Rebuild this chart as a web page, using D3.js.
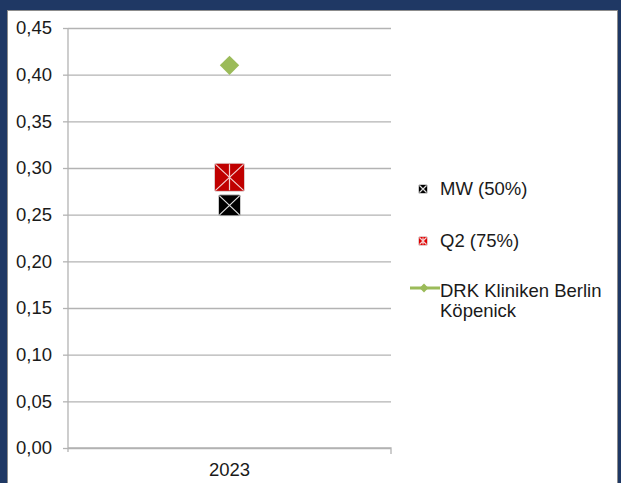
<!DOCTYPE html>
<html>
<head>
<meta charset="utf-8">
<script src="https://cdn.jsdelivr.net/npm/d3@7"></script>
<style>
  body { margin: 0; background: #1f3864; }
  svg { display: block; font-family: "Liberation Sans", Arial, sans-serif; }
</style>
</head>
<body>
<div id="chart"></div>
<script>
// Scatter of one year: MW, Q2 and the clinic value

const categories = ["2023"];
const mwValues = [0.26];
const q2Values = [0.29];
const drkValues = [0.41];
const yTicks = [0, 0.05, 0.10, 0.15, 0.20, 0.25, 0.30, 0.35, 0.40, 0.45];
const legendLabels = ["MW (50%)", "Q2 (75%)", ["DRK Kliniken Berlin", "Köpenick"]];

const width = 621,
    height = 483,
    margin = ({ top: 28, right: 230, bottom: 35, left: 68 }),
    fontSize = 18.5;

const de = d3.formatLocale({ decimal: ",", thousands: ".", grouping: [3], currency: ["", " €"] });
const fmt = de.format(".2f");

const svg = d3.select("#chart")
  .append("svg")
  .attr("width", width)
  .attr("height", height);

// frame
svg.append("rect")
  .attr("width", width).attr("height", height)
  .attr("fill", "#1f3864");
svg.append("rect")
  .attr("x", 7.5).attr("y", 10.5)
  .attr("width", 610).attr("height", 480)
  .attr("fill", "#fff")
  .attr("stroke", "#8c8c8c");

const x = d3.scaleBand()
  .domain(categories)
  .range([margin.left, width - margin.right]);

const y = d3.scaleLinear()
  .domain([0, 0.45])
  .range([height - margin.bottom, margin.top]);

// gridlines
svg.append("g")
  .attr("transform", `translate(${margin.left},0)`)
  .call(d3.axisLeft(y).tickValues(yTicks).tickSize(-(x.range()[1] - margin.left)).tickFormat(""))
  .call(g => g.select(".domain").remove())
  .call(g => g.selectAll("line").attr("stroke", "#b3b3b3").attr("stroke-width", 1.3));

// y axis
svg.append("g")
  .attr("transform", `translate(${margin.left},0)`)
  .call(d3.axisLeft(y).tickValues(yTicks).tickSize(5).tickSizeOuter(0).tickPadding(11).tickFormat(fmt))
  .call(g => g.select(".domain").attr("stroke", "#b3b3b3").attr("stroke-width", 1.3)
    .attr("d", `M0,${y(0.45)}V${y(0) + 4}`))
  .call(g => g.selectAll("line").attr("stroke", "#b3b3b3").attr("stroke-width", 1.3))
  .call(g => g.selectAll("text").attr("font-size", fontSize).attr("fill", "#1a1a1a"));

// x axis
svg.append("g")
  .attr("transform", `translate(0,${y(0)})`)
  .call(d3.axisBottom(x).tickSize(0).tickPadding(15))
  .call(g => g.select(".domain").attr("stroke", "#b3b3b3").attr("stroke-width", 1.3)
    .attr("d", `M${x.range()[0]},0H${x.range()[1]}V6`))
  .call(g => g.selectAll("text").attr("font-size", fontSize).attr("fill", "#1a1a1a"));

const cx = c => x(c) + x.bandwidth() / 2;

function boxMark(g, w, h, fill, vertical) {
  g.append("rect")
    .attr("x", -w / 2).attr("y", -h / 2)
    .attr("width", w).attr("height", h)
    .attr("rx", 1.5)
    .attr("fill", fill)
    .attr("stroke", "#ddd").attr("stroke-width", 0.8);
  g.append("path")
    .attr("d", `M${-w / 2 + 1},${-h / 2 + 1}L${w / 2 - 1},${h / 2 - 1}M${w / 2 - 1},${-h / 2 + 1}L${-w / 2 + 1},${h / 2 - 1}` +
      (vertical ? `M0,${-h / 2 + 1}V${h / 2 - 1}` : ""))
    .attr("stroke", vertical ? "#f4d0d0" : "#e0e0e0")
    .attr("stroke-width", 1.2);
}

// MW markers
svg.append("g").selectAll("g")
  .data(mwValues.map((v, i) => ({ c: categories[i], v })))
  .join("g")
  .attr("transform", d => `translate(${cx(d.c)},${y(d.v)})`)
  .each(function () { boxMark(d3.select(this), 22, 21, "#000", false); });

// Q2 markers
svg.append("g").selectAll("g")
  .data(q2Values.map((v, i) => ({ c: categories[i], v })))
  .join("g")
  .attr("transform", d => `translate(${cx(d.c)},${y(d.v)})`)
  .each(function () { boxMark(d3.select(this), 30, 28, "#c00000", true); });

// DRK markers
const diamond = d3.symbol().type(d3.symbolDiamond2).size(240);
svg.append("g").selectAll("path")
  .data(drkValues.map((v, i) => ({ c: categories[i], v })))
  .join("path")
  .attr("transform", d => `translate(${cx(d.c)},${y(d.v)})`)
  .attr("d", diamond)
  .attr("fill", "#9bbb59");

// legend
const legend = svg.append("g").attr("font-size", fontSize).attr("fill", "#1a1a1a");
const ly = [189, 241, 288];
const textY = [189, 241, 291];

const l0 = legend.append("g").attr("transform", `translate(423,${ly[0]})`);
boxMark(l0, 9, 9, "#000", false);
const l1 = legend.append("g").attr("transform", `translate(423,${ly[1]})`);
boxMark(l1, 9, 9, "#e00000", true);
const l2 = legend.append("g").attr("transform", `translate(424,${ly[2]})`);
l2.append("line").attr("x1", -14).attr("x2", 16).attr("stroke", "#9bbb59").attr("stroke-width", 3);
l2.append("path").attr("d", d3.symbol().type(d3.symbolDiamond2).size(50)).attr("fill", "#9bbb59");

legendLabels.forEach((lab, i) => {
  const t = legend.append("text")
    .attr("x", 440).attr("y", textY[i]);
  [].concat(lab).forEach((s, j) => {
    t.append("tspan").attr("x", 440).attr("dy", j === 0 ? "0.35em" : 20).text(s);
  });
});
</script>
</body>
</html>
